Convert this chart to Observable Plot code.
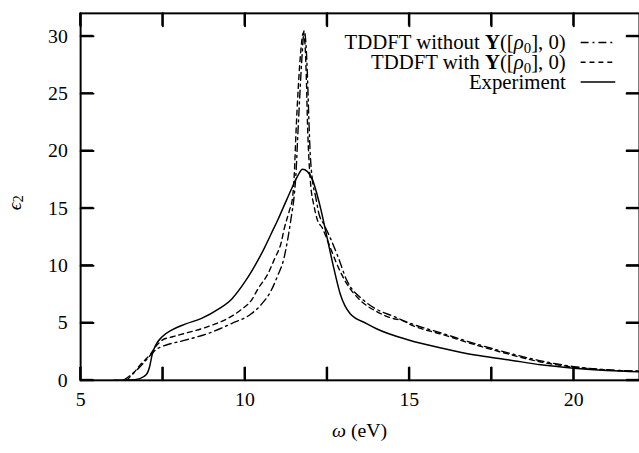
<!DOCTYPE html>
<html>
<head>
<meta charset="utf-8">
<script src="https://cdn.jsdelivr.net/npm/d3@7"></script>
<script src="https://cdn.jsdelivr.net/npm/@observablehq/plot@0.6"></script>
<style>
  html, body { margin: 0; padding: 0; background: white; overflow: hidden; }
  #chart { width: 639px; height: 453px; overflow: hidden; }
</style>
</head>
<body>
<div id="chart"></div>
<script>
// ---- data ----
const seriesNames = ["TDDFT without Y([ρ0],0)", "TDDFT with Y([ρ0],0)", "Experiment"];

const expW = [6.0, 6.5, 6.8, 7.0, 7.1, 7.18, 7.28, 7.48, 7.78, 8.18, 8.68, 9.19, 9.6, 10.0, 10.2, 10.4, 10.6, 10.8, 11.0, 11.2, 11.4, 11.6, 11.75, 11.9, 12.05, 12.3, 12.5, 12.7, 12.9, 13.2, 13.7, 14.0, 15, 16, 17, 18, 19, 20, 21, 22];
const expE = [0, 0.02, 0.15, 0.5, 1.2, 2.3, 3.05, 3.8, 4.4, 4.9, 5.4, 6.2, 7.1, 8.6, 9.5, 10.5, 11.6, 12.8, 14.0, 15.3, 16.6, 17.8, 18.4, 18.2, 17.5, 15.0, 12.4, 9.8, 7.5, 5.8, 4.95, 4.5, 3.5, 2.8, 2.2, 1.8, 1.35, 1.06, 0.86, 0.75];

const withW = [6.4, 6.6, 6.8, 7.0, 7.13, 7.3, 7.48, 7.8, 8.18, 8.89, 9.6, 9.9, 10.2, 10.4, 10.7, 10.9, 11.1, 11.2, 11.35, 11.45, 11.5, 11.55, 11.62, 11.7, 11.77, 11.82, 11.87, 11.9, 11.95, 12.0, 12.1, 12.2, 12.35, 12.55, 12.8, 13.1, 13.5, 14.0, 14.5, 14.8, 15.0, 16, 17, 18, 19, 20, 21, 22];
const withE = [0, 0.6, 1.3, 1.9, 2.3, 3.0, 3.5, 3.8, 4.1, 4.7, 5.6, 6.2, 7.0, 8.0, 9.3, 10.6, 12.0, 13.3, 14.8, 16.0, 18.0, 21.5, 25.5, 28.8, 30.3, 29.5, 26.0, 22.5, 19.0, 17.0, 15.2, 14.0, 13.3, 11.9, 10.1, 8.4, 7.0, 6.0, 5.4, 5.2, 4.9, 4.0, 3.1, 2.3, 1.6, 1.15, 0.9, 0.78];

const woW = [6.3, 6.5, 6.78, 7.13, 7.3, 7.48, 8.18, 8.89, 9.59, 10.19, 10.49, 10.79, 10.99, 11.19, 11.3, 11.4, 11.5, 11.55, 11.6, 11.67, 11.74, 11.8, 11.85, 11.9, 11.94, 11.98, 12.05, 12.15, 12.25, 12.4, 12.55, 12.8, 13.1, 13.6, 14.0, 14.5, 15.0, 16, 17, 18, 19, 20, 21, 22];
const woE = [0, 0.4, 1.1, 2.2, 2.7, 2.95, 3.5, 4.1, 4.95, 5.8, 6.6, 7.8, 9.1, 10.7, 12.3, 14.1, 16.2, 18.0, 21.0, 25.0, 28.5, 30.5, 29.5, 26.5, 23.0, 20.0, 17.5, 16.0, 14.5, 13.6, 12.7, 11.0, 8.7, 7.0, 6.2, 5.6, 5.0, 4.1, 3.2, 2.4, 1.7, 1.2, 0.92, 0.8];

const xTicks = [5, 7.5, 10, 12.5, 15, 17.5, 20];
const xLabels = [5, 10, 15, 20];
const yTicks = [0, 5, 10, 15, 20, 25, 30];
const xDomain = [5, 22];
const yDomain = [0, 32];

// ---- tables ----
const toRows = (W, E) => W.map((w, i) => ({w, e: E[i]}));
const expRows = toRows(expW, expE);
const withRows = toRows(withW, withE);
const woRows = toRows(woW, woE);

const DASH_DOT = "8,4,2,4";
const DASHED = "5,4";
const FONT = "'Liberation Serif', 'Times New Roman', serif";

const W = 646, H = 453, ML = 81, MR = 0, MT = 13, MB = 69;
const TICK = 13; // px
const tX = TICK * (xDomain[1] - xDomain[0]) / (W - ML - MR);
const tY = TICK * (yDomain[1] - yDomain[0]) / (H - MT - MB);

// inward tick segments (two points each), grouped by id
const tickRows = [];
xTicks.forEach((v, i) => {
  tickRows.push({id: "b" + i, w: v, e: yDomain[0]}, {id: "b" + i, w: v, e: yDomain[0] + tY});
  tickRows.push({id: "t" + i, w: v, e: yDomain[1]}, {id: "t" + i, w: v, e: yDomain[1] - tY});
});
yTicks.forEach((v, i) => {
  tickRows.push({id: "l" + i, w: xDomain[0], e: v}, {id: "l" + i, w: xDomain[0] + tX, e: v});
  tickRows.push({id: "r" + i, w: xDomain[1], e: v}, {id: "r" + i, w: xDomain[1] - tX, e: v});
});

const plot = Plot.plot({
  width: W,
  height: H,
  marginLeft: ML,
  marginRight: MR,
  marginTop: MT,
  marginBottom: MB,
  x: {domain: xDomain},
  y: {domain: yDomain},
  style: {fontFamily: FONT, fontSize: "20px", color: "black", background: "white"},
  marks: [
    Plot.line(woRows, {x: "w", y: "e", stroke: "black", strokeWidth: 1.4, strokeDasharray: DASH_DOT, curve: "monotone-x"}),
    Plot.line(withRows, {x: "w", y: "e", stroke: "black", strokeWidth: 1.4, strokeDasharray: DASHED, curve: "monotone-x"}),
    Plot.line(expRows, {x: "w", y: "e", stroke: "black", strokeWidth: 1.5, curve: "monotone-x"}),
    Plot.line(tickRows, {x: "w", y: "e", z: "id", stroke: "black", strokeWidth: 2}),
    // tick labels
    Plot.axisX({anchor: "bottom", ticks: xLabels, tickSize: 0, tickPadding: 12, label: null}),
    Plot.axisY({anchor: "left", ticks: yTicks, tickSize: 0, tickPadding: 13, label: null}),
    Plot.frame({stroke: "black", strokeWidth: 2})
  ]
});

document.getElementById("chart").appendChild(plot);

const svg = d3.select(plot);
const sx = plot.scale("x"), sy = plot.scale("y");
const X = v => sx.apply(v), Y = v => sy.apply(v);

// same ticks again as filled rectangles (coincide exactly with the lines above)
const rg = svg.append("g").attr("fill", "black");
xTicks.forEach(v => {
  rg.append("rect").attr("x", X(v) - 1).attr("width", 2).attr("y", Y(yDomain[0]) - TICK).attr("height", TICK).attr("fill", "black");
  rg.append("rect").attr("x", X(v) - 1).attr("width", 2).attr("y", Y(yDomain[1])).attr("height", TICK).attr("fill", "black");
});
yTicks.forEach(v => {
  rg.append("rect").attr("y", Y(v) - 1).attr("height", 2).attr("x", X(xDomain[0])).attr("width", TICK).attr("fill", "black");
  rg.append("rect").attr("y", Y(v) - 1).attr("height", 2).attr("x", X(xDomain[1]) - TICK).attr("width", TICK).attr("fill", "black");
});

// ---- axis titles ----
const xt = svg.append("text")
  .attr("x", (X(xDomain[0]) + X(xDomain[1])) / 2).attr("y", 437)
  .attr("text-anchor", "middle").attr("dominant-baseline", "middle")
  .attr("font-family", FONT).attr("font-size", 20).attr("fill", "black");
xt.append("tspan").attr("font-style", "italic").text("ω");
xt.append("tspan").text(" (eV)");

const yt = svg.append("text")
  .attr("transform", "translate(16,205) rotate(-90)")
  .attr("text-anchor", "middle").attr("dominant-baseline", "middle")
  .attr("font-family", FONT).attr("font-size", 20).attr("fill", "black");
yt.append("tspan").attr("font-style", "italic").text("ϵ");
yt.append("tspan").attr("font-size", 14).attr("dy", 4).text("2");

// ---- legend ----
const legend = [
  {pre: "TDDFT without ", math: true, dash: DASH_DOT, y: 43},
  {pre: "TDDFT with ", math: true, dash: DASHED, y: 63},
  {pre: "Experiment", math: false, dash: null, y: 83}
];
legend.forEach(item => {
  const t = svg.append("text")
    .attr("x", 572).attr("y", item.y + 7)
    .attr("text-anchor", "end")
    .attr("font-family", FONT).attr("font-size", 21).attr("fill", "black");
  t.append("tspan").text(item.pre);
  if (item.math) {
    t.append("tspan").attr("font-weight", "bold").text("Y");
    t.append("tspan").text("([");
    t.append("tspan").attr("font-style", "italic").text("ρ");
    t.append("tspan").attr("font-size", 15).attr("dy", 4).text("0");
    t.append("tspan").attr("dy", -4).text("], 0)");
  }
  const l = svg.append("line")
    .attr("x1", 587).attr("x2", 622).attr("y1", item.y).attr("y2", item.y)
    .attr("stroke", "black").attr("stroke-width", item.dash ? 1.4 : 1.5);
  if (item.dash) l.attr("stroke-dasharray", item.dash);
});
</script>
</body>
</html>
